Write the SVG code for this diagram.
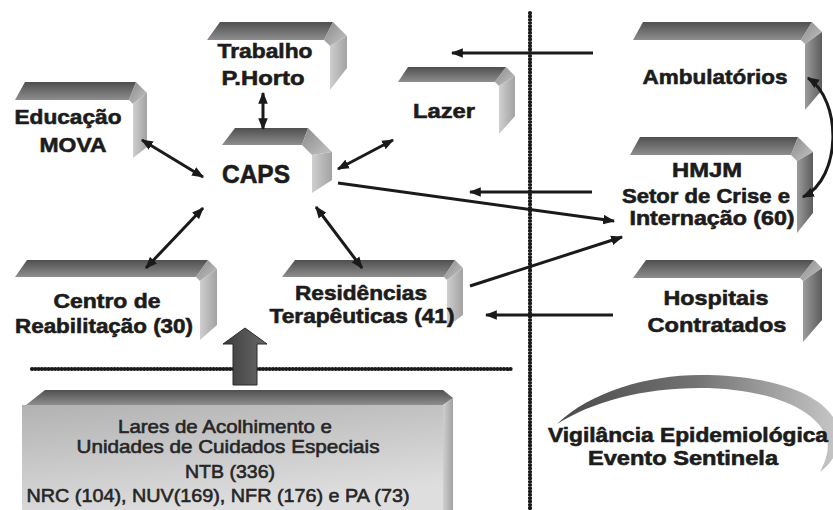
<svg xmlns="http://www.w3.org/2000/svg" width="833" height="510" viewBox="0 0 833 510">
  <defs>
    <linearGradient id="gTop" x1="0" y1="0" x2="0" y2="1">
      <stop offset="0" stop-color="#4f4f4f"/>
      <stop offset="1" stop-color="#8e8e8e"/>
    </linearGradient>
    <linearGradient id="gBevel" x1="0" y1="0" x2="1" y2="1">
      <stop offset="0" stop-color="#8a8a8a"/>
      <stop offset="1" stop-color="#c4c4c4"/>
    </linearGradient>
    <linearGradient id="gSideLight" x1="0" y1="0" x2="1" y2="0">
      <stop offset="0" stop-color="#cfcfcf"/>
      <stop offset="1" stop-color="#a2a2a2"/>
    </linearGradient>
    <linearGradient id="gSideDark" x1="0" y1="0" x2="1" y2="0">
      <stop offset="0" stop-color="#9c9c9c"/>
      <stop offset="1" stop-color="#5c5c5c"/>
    </linearGradient>
    <linearGradient id="gFront" x1="0" y1="0" x2="0.4" y2="1">
      <stop offset="0" stop-color="#b2b2b2"/>
      <stop offset="1" stop-color="#dedede"/>
    </linearGradient>
    <linearGradient id="gArc" x1="557" y1="0" x2="833" y2="0" gradientUnits="userSpaceOnUse">
      <stop offset="0" stop-color="#4a4a4a"/>
      <stop offset="0.5" stop-color="#727272"/>
      <stop offset="1" stop-color="#c4c4c4"/>
    </linearGradient>
    <linearGradient id="gBig" x1="0" y1="0" x2="1" y2="0">
      <stop offset="0" stop-color="#3c3c3c"/>
      <stop offset="1" stop-color="#6a6a6a"/>
    </linearGradient>
    <marker id="ah" viewBox="0 0 10 8" refX="9" refY="4" markerWidth="12" markerHeight="10" markerUnits="userSpaceOnUse" orient="auto-start-reverse">
      <path d="M0,0 L10,4 L0,8 z" fill="#1a1a1a"/>
    </marker>
  </defs>
  <style>
    .top { fill: url(#gTop); }
    .bev { fill: url(#gBevel); }
    .sl { fill: url(#gSideLight); }
    .sd { fill: url(#gSideDark); }
    .lbl { font-family: "Liberation Sans", Arial, sans-serif; font-weight: bold; font-size: 21px; fill: #1c1c1c; stroke: #1c1c1c; stroke-width: 0.6; text-anchor: middle; }
    .big { font-size: 25px; }
    .tight { font-size: 20px; }
    .small { font-family: "Liberation Sans", Arial, sans-serif; font-size: 19px; fill: #262626; stroke: #262626; stroke-width: 0.6; text-anchor: middle; }
    .conn { stroke: #1a1a1a; stroke-width: 3; fill: none; }
    .dots { stroke: #1a1a1a; stroke-width: 4.2; stroke-linecap: round; stroke-dasharray: 0.1 3.2; fill: none; }
  </style>

  <rect width="833" height="510" fill="#ffffff"/>

  <!-- dotted dividers -->
  <g id="dividers">
    <line class="dots" x1="530" y1="13" x2="530" y2="510"/>
    <line class="dots" x1="32" y1="369" x2="512" y2="369"/>
  </g>

  <!-- nodes: dark top face, bevelled corner, side face -->
  <g id="trabalho">
    <polygon class="top" points="207,40 220,22 333,22 324,40"/>
    <polygon class="bev" points="333,22 347,36 330,46 324,40"/>
    <polygon class="sl" points="347,36 347,68 330,90 330,46"/>
    <text class="lbl" x="265" y="58" textLength="95" lengthAdjust="spacingAndGlyphs">Trabalho</text>
    <text class="lbl" x="263" y="85" textLength="83" lengthAdjust="spacingAndGlyphs">P.Horto</text>
  </g>

  <g id="educacao">
    <polygon class="top" points="15,100 25,82 136,82 129,100"/>
    <polygon class="bev" points="136,82 147,93 133,104 129,100"/>
    <polygon class="sl" points="147,93 147,147 133,158 133,104"/>
    <text class="lbl" x="68" y="124" textLength="107" lengthAdjust="spacingAndGlyphs">Educação</text>
    <text class="lbl" x="73" y="152" textLength="67" lengthAdjust="spacingAndGlyphs">MOVA</text>
  </g>

  <g id="caps">
    <polygon class="top" points="222,145 235,128 308,128 302,145"/>
    <polygon class="bev" points="308,128 332,152 312,155 302,145"/>
    <polygon class="sl" points="332,152 332,180 312,193 312,155"/>
    <text class="lbl big" x="256" y="183" textLength="68" lengthAdjust="spacingAndGlyphs">CAPS</text>
  </g>

  <g id="lazer">
    <polygon class="top" points="398,82 408,67 506,67 495,82"/>
    <polygon class="bev" points="506,67 515,76 499,86 495,82"/>
    <polygon class="sl" points="515,76 515,116 499,134 499,86"/>
    <text class="lbl" x="444" y="118" textLength="62" lengthAdjust="spacingAndGlyphs">Lazer</text>
  </g>

  <g id="ambulatorios">
    <polygon class="top" points="633,40 643,22 812,22 801,40"/>
    <polygon class="bev" points="812,22 822,32 805,44 801,40"/>
    <polygon class="sd" points="822,32 822,90 805,110 805,44"/>
    <text class="lbl" x="715" y="84" textLength="145" lengthAdjust="spacingAndGlyphs">Ambulatórios</text>
  </g>

  <g id="hmjm">
    <polygon class="top" points="630,155 640,137 798,137 791,155"/>
    <polygon class="bev" points="798,137 813,152 797,161 791,155"/>
    <polygon class="sd" points="813,152 813,213 797,233 797,161"/>
    <text class="lbl" x="707" y="177" textLength="70" lengthAdjust="spacingAndGlyphs">HMJM</text>
    <text class="lbl tight" x="706" y="203" textLength="168" lengthAdjust="spacingAndGlyphs">Setor de Crise e</text>
    <text class="lbl tight" x="712" y="225" textLength="165" lengthAdjust="spacingAndGlyphs">Internação (60)</text>
  </g>

  <g id="hospitais">
    <polygon class="top" points="633,278 646,260 814,260 800,278"/>
    <polygon class="bev" points="814,260 822,268 803,281 800,278"/>
    <polygon class="sd" points="822,268 822,320 803,342 803,281"/>
    <text class="lbl" x="716" y="305" textLength="105" lengthAdjust="spacingAndGlyphs">Hospitais</text>
    <text class="lbl" x="717" y="332" textLength="139" lengthAdjust="spacingAndGlyphs">Contratados</text>
  </g>

  <g id="centro">
    <polygon class="top" points="15,277 27,260 208,260 196,277"/>
    <polygon class="bev" points="208,260 217,269 200,281 196,277"/>
    <polygon class="sl" points="217,269 217,325 200,340 200,281"/>
    <text class="lbl" x="107" y="308" textLength="107" lengthAdjust="spacingAndGlyphs">Centro de</text>
    <text class="lbl" x="104" y="333" textLength="178" lengthAdjust="spacingAndGlyphs">Reabilitação (30)</text>
  </g>

  <g id="residencias">
    <polygon class="top" points="282,277 295,260 455,260 444,277"/>
    <polygon class="bev" points="455,260 463,268 447,280 444,277"/>
    <polygon class="sl" points="463,268 463,315 447,327 447,280"/>
    <text class="lbl" x="361" y="300" textLength="132" lengthAdjust="spacingAndGlyphs">Residências</text>
    <text class="lbl" x="362" y="323" textLength="185" lengthAdjust="spacingAndGlyphs">Terapêuticas (41)</text>
  </g>

  <g id="vigilancia">
    <path fill="url(#gArc)" d="M557,424 C590,392 648,375 700,375 C770,375 828,393 838,428 C843,447 833,462 820,472 C827,458 830,447 826,436 C814,407 764,388 700,388 C642,388 592,402 557,424 Z"/>
    <text class="lbl tight" x="688" y="442" textLength="280" lengthAdjust="spacingAndGlyphs">Vigilância Epidemiológica</text>
    <text class="lbl tight" x="683" y="465" textLength="190" lengthAdjust="spacingAndGlyphs">Evento Sentinela</text>
  </g>

  <g id="lares">
    <rect x="22" y="405" width="421" height="105" fill="url(#gFront)"/>
    <polygon class="top" points="26,405 45,390 443,390 453,398 443,405"/>
    <polygon class="sl" points="443,405 453,398 453,510 443,510"/>
    <text class="small" x="225" y="433" textLength="214" lengthAdjust="spacingAndGlyphs">Lares de Acolhimento e</text>
    <text class="small" x="228" y="453" textLength="303" lengthAdjust="spacingAndGlyphs">Unidades de Cuidados Especiais</text>
    <text class="small" x="230" y="478" textLength="90" lengthAdjust="spacingAndGlyphs">NTB (336)</text>
    <text class="small" x="218" y="502" textLength="383" lengthAdjust="spacingAndGlyphs">NRC (104), NUV(169),  NFR (176) e PA (73)</text>
  </g>

  <!-- connectors -->
  <g id="connectors">
    <line class="conn" x1="263" y1="93" x2="263" y2="129" marker-start="url(#ah)" marker-end="url(#ah)"/>
    <line class="conn" x1="142" y1="140" x2="203" y2="177" marker-start="url(#ah)" marker-end="url(#ah)"/>
    <line class="conn" x1="393" y1="140" x2="338" y2="169" marker-start="url(#ah)" marker-end="url(#ah)"/>
    <line class="conn" x1="338" y1="183" x2="614" y2="221" marker-end="url(#ah)"/>
    <line class="conn" x1="203" y1="208" x2="146" y2="268" marker-start="url(#ah)" marker-end="url(#ah)"/>
    <line class="conn" x1="316" y1="207" x2="362" y2="268" marker-start="url(#ah)" marker-end="url(#ah)"/>
    <line class="conn" x1="470" y1="286" x2="622" y2="237" marker-end="url(#ah)"/>
    <line class="conn" x1="593" y1="53" x2="452" y2="53" marker-end="url(#ah)"/>
    <line class="conn" x1="592" y1="192" x2="470" y2="192" marker-end="url(#ah)"/>
    <line class="conn" x1="613" y1="315" x2="486" y2="315" marker-end="url(#ah)"/>
    <path class="conn" d="M808,78 C842,100 842,178 803,197" marker-start="url(#ah)" marker-end="url(#ah)"/>
    <polygon points="233,385 233,344 223,344 245,328 267,344 257,344 257,385" fill="url(#gBig)" stroke="#2a2a2a" stroke-width="1"/>
  </g>
</svg>
